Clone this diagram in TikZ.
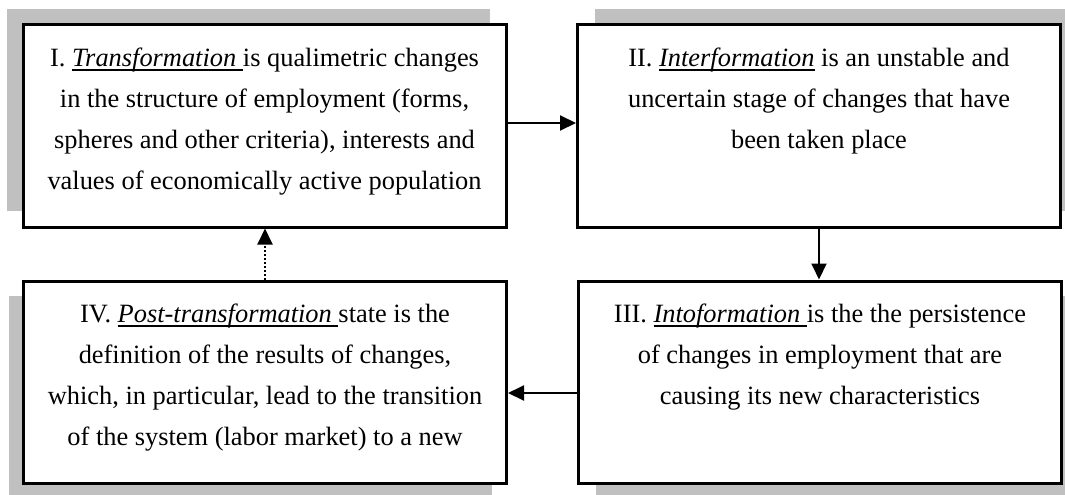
\documentclass[tikz,border=0pt]{standalone}
\usepackage{fontspec}
\setmainfont{Liberation Serif}
\usetikzlibrary{arrows.meta,calc}
\definecolor{shade}{RGB}{192,192,192}
\newcommand\myul[1]{\setbox0\hbox{#1}\rlap{\rule[-5pt]{\wd0}{1.8pt}}\box0\relax}
\begin{document}
\begin{tikzpicture}[x=1pt,y=-1pt,
 stagebox/.style={draw=black, line width=3pt, minimum width=483pt, minimum height=202pt, inner sep=0pt, fill=white},
 shadowbox/.style={fill=shade, minimum width=483pt, minimum height=202pt, inner sep=0pt},
 stagetext/.style={anchor=north, align=center, inner sep=0pt, font=\fontsize{26.4}{41}\selectfont},
 arr/.style={line width=2pt, -{Triangle[length=16pt,width=15pt]}},
 dotarr/.style={arr, dotted}]
\useasboundingbox (0,0) rectangle (1065,495);
\begin{scope}
\clip (0,0) rectangle (1065,495);
\node[shadowbox] (s1) at (248.5,110) {};
\node[shadowbox] (s2) at (836,110) {};
\node[shadowbox] (s3) at (837,397) {};
\node[shadowbox] (s4) at (250,397) {};
\node[stagebox] (b1) at (264.5,126) {};
\node[stagebox] (b2) at (819,126) {};
\node[stagebox] (b3) at (820,382) {};
\node[stagebox] (b4) at (265,382) {};
\end{scope}
\node[stagetext] (t1) at ($(b1.north)+(0,24)$) {I. \myul{\textit{Transformation }}is qualimetric changes\\in the structure of employment (forms,\\spheres and other criteria), interests and\\values of economically active population};
\node[stagetext] (t2) at ($(b2.north)+(0,24)$) {II. \myul{\textit{Interformation}} is an unstable and\\uncertain stage of changes that have\\been taken place};
\node[stagetext] (t3) at ($(b3.north)+(0,24)$) {III. \myul{\textit{Intoformation }}is the the persistence\\of changes in employment that are\\causing its new characteristics};
\node[stagetext] (t4) at ($(b4.north)+(0,24)$) {IV. \myul{\textit{Post-transformation }}state is the\\definition of the results of changes,\\which, in particular, lead to the transition\\of the system (labor market) to a new};
\draw[arr] ([yshift=3pt]b1.east) -- ([yshift=3pt]b2.west);
\draw[arr] (b2.south) -- (b2.south |- b3.north);
\draw[arr] ([yshift=-11pt]b3.west) -- ([yshift=-11pt]b4.east);
\draw[dotarr] (b4.north) -- (b4.north |- b1.south);
\end{tikzpicture}
\end{document}
